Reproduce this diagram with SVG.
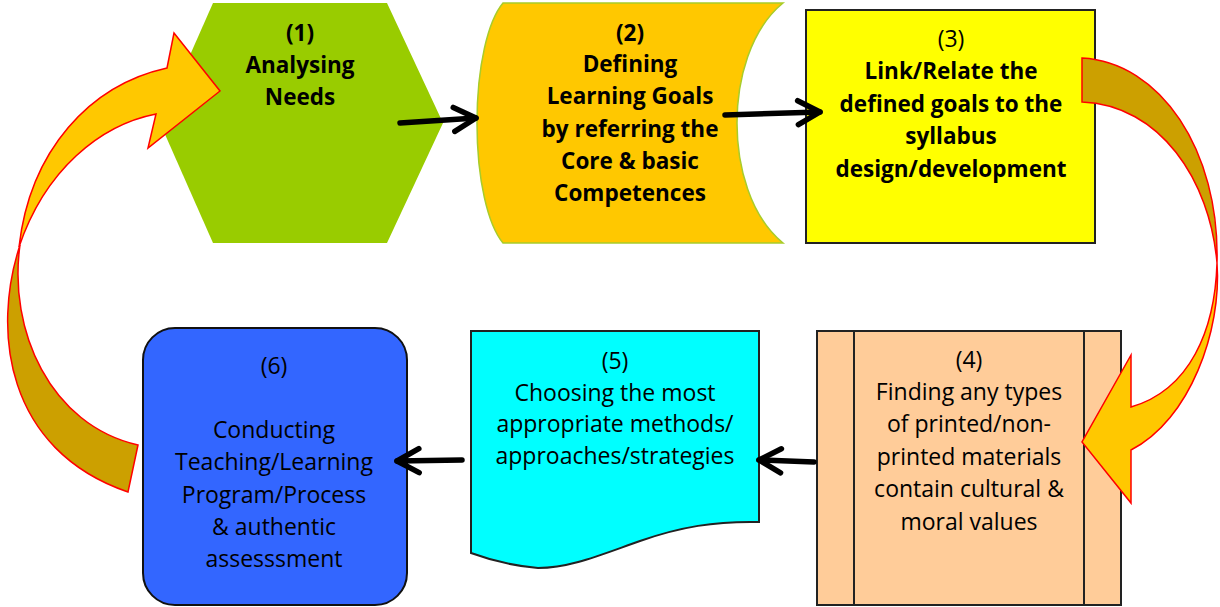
<svg xmlns="http://www.w3.org/2000/svg" width="1220" height="607" viewBox="0 0 1220 607">
<defs>
<style>
.t{font-family:"Open Sans","Liberation Sans",sans-serif;font-size:23px;fill:#000;text-anchor:middle}
.b{font-weight:bold;font-size:22.5px}
.edge{stroke:#000;stroke-width:5.5;fill:none;stroke-linecap:round}
.cl{fill:#FFC800;stroke:#FF0000;stroke-width:1.5;stroke-linejoin:miter}
.cd{fill:#CCA000;stroke:#FF0000;stroke-width:1.5}
</style>
<marker id="ah" markerUnits="userSpaceOnUse" viewBox="-26 -16 30 32" refX="0" refY="0" markerWidth="30" markerHeight="32" orient="auto">
<path d="M-22,-12 L0,0 L-22,12" fill="none" stroke="#000" stroke-width="5.5" stroke-linecap="round" stroke-linejoin="round"/>
</marker>
</defs>
<rect width="1220" height="607" fill="#fff"/>
<g id="node1">
<polygon points="213,3 387,3 443,123 387,243 213,243 160,123" fill="#99CC00"/>
<text class="t b" x="300" y="41">(1)</text>
<text class="t b" x="300" y="73">Analysing</text>
<text class="t b" x="300" y="105">Needs</text>
</g>
<g id="node2">
<path d="M503,3 L783,3 C750,30 737,80 737,123 C737,166 750,216 783,243 L503,243 C488,225 477,180 477,123 C477,66 488,21 503,3 Z" fill="#FFC800" stroke="#A8CC2A" stroke-width="1.5"/>
<text class="t b" x="630" y="41">(2)</text>
<text class="t b" x="630" y="72">Defining</text>
<text class="t b" x="630" y="104">Learning Goals</text>
<text class="t b" x="630" y="137">by referring the</text>
<text class="t b" x="630" y="169">Core &amp; basic</text>
<text class="t b" x="630" y="201">Competences</text>
</g>
<g id="node3">
<rect x="806" y="10" width="289" height="233" fill="#FFFF00" stroke="#222" stroke-width="2"/>
<text class="t" x="951" y="47">(3)</text>
<text class="t b" x="951" y="79">Link/Relate the</text>
<text class="t b" x="951" y="112">defined goals to the</text>
<text class="t b" x="951" y="144">syllabus</text>
<text class="t b" x="951" y="177">design/development</text>
</g>
<g id="node4">
<rect x="817" y="331" width="304" height="274" fill="#FFCC99" stroke="#222" stroke-width="2"/>
<line x1="854" y1="331" x2="854" y2="605" stroke="#222" stroke-width="2"/>
<line x1="1084" y1="331" x2="1084" y2="605" stroke="#222" stroke-width="2"/>
<text class="t" x="969" y="368">(4)</text>
<text class="t" x="969" y="400">Finding any types</text>
<text class="t" x="969" y="432">of printed/non-</text>
<text class="t" x="969" y="465">printed materials</text>
<text class="t" x="969" y="497">contain cultural &amp;</text>
<text class="t" x="969" y="530">moral values</text>
</g>
<g id="node5">
<path d="M471,331 L759,331 L759,522 C715,521 680,527 640,541 C600,555 570,568 538,568 C515,566 490,560 471,553 Z" fill="#00FFFF" stroke="#222" stroke-width="2"/>
<text class="t" x="615" y="369">(5)</text>
<text class="t" x="615" y="401">Choosing the most</text>
<text class="t" x="615" y="432">appropriate methods/</text>
<text class="t" x="615" y="464">approaches/strategies</text>
</g>
<g id="node6">
<rect x="143" y="328" width="264" height="277" rx="32" ry="32" fill="#3366FF" stroke="#111" stroke-width="2"/>
<text class="t" x="274" y="374">(6)</text>
<text class="t" x="274" y="438">Conducting</text>
<text class="t" x="274" y="470">Teaching/Learning</text>
<text class="t" x="274" y="503">Program/Process</text>
<text class="t" x="274" y="535">&amp; authentic</text>
<text class="t" x="274" y="567">assesssment</text>
</g>
<g id="connectors">
<line class="edge" x1="400" y1="123" x2="476" y2="118" marker-end="url(#ah)"/>
<line class="edge" x1="725" y1="115" x2="820" y2="112" marker-end="url(#ah)"/>
<line class="edge" x1="814" y1="462" x2="759" y2="460" marker-end="url(#ah)"/>
<line class="edge" x1="462" y1="460" x2="397" y2="461" marker-end="url(#ah)"/>
<g id="loop-right">
<path class="cd" d="M1082,58 C1160,62 1220,150 1217,263 C1210,180 1160,105 1082,102 Z"/>
<path class="cl" d="M1217,263 C1222,330 1190,420 1131,450 L1131,503 L1082,442 L1131,355 L1131,407 C1190,390 1215,330 1217,263 Z"/>
</g>
<g id="loop-left">
<path class="cd" d="M20,245 C-8,330 5,450 128,492 L138,445 C50,425 8,330 20,245 Z"/>
<path class="cl" d="M19,247 C30,150 90,85 167,68 L174,33 L220,91 L148,148 L156,114 C100,125 45,170 19,247 Z"/>
</g>
</g>
</svg>
